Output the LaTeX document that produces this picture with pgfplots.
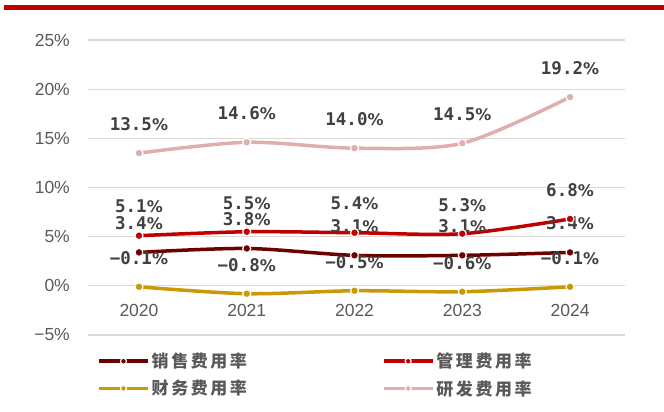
\documentclass[border=0pt]{standalone}
\usepackage{pgfplots}
\pgfplotsset{compat=1.18}
\usepackage{fontspec}
\setmainfont{Liberation Sans}
\newfontfamily\cjk[LetterSpace=15]{Noto Sans CJK SC}
\newfontfamily\lab{DejaVu Sans Mono}
\newfontfamily\pct{DejaVu Sans}
\definecolor{topred}{HTML}{C00000}
\definecolor{cxs}{HTML}{6E0000}
\definecolor{cgl}{HTML}{C00000}
\definecolor{ccw}{HTML}{C99A06}
\definecolor{cyf}{HTML}{DFAFAF}
\definecolor{gridgray}{HTML}{D9D9D9}
\definecolor{tickgray}{HTML}{595959}
\definecolor{labgray}{HTML}{404040}
\begin{document}
\begin{tikzpicture}[x=1pt,y=1pt]
\path[use as bounding box] (0,0) rectangle (664,412);
\fill[topred] (4,402) rectangle (664,406.5);
\begin{axis}[
  at={(88pt,77pt)}, anchor=south west,
  scale only axis, width=537pt, height=295pt,
  xmin=-0.473, xmax=4.51, ymin=-5, ymax=25,
  xtick={0,1,2,3,4}, xticklabels={2020,2021,2022,2023,2024},
  ytick={-5,0,5,10,15,20,25},
  yticklabels={−5\%,0\%,5\%,10\%,15\%,20\%,25\%},
  ymajorgrids, grid style={color=gridgray, line width=1.2pt},
  axis line style={draw=none}, major tick length=0pt,
  tick label style={font=\fontsize{17.5}{17.5}\selectfont, text=tickgray},
  yticklabel style={inner sep=0pt, xshift=-18pt},
  xticklabel style={anchor=center, yshift=25pt},
  clip=false,
  every axis plot/.append style={smooth, line width=3.5pt, mark=*, mark size=4pt},
  point meta=explicit symbolic,
  nodes near coords={\pgfplotspointmeta{\pct\fontsize{16}{16}\selectfont\%}},
  every node near coord/.append style={anchor=center, yshift=29pt,
     font=\lab\bfseries\fontsize{17.5}{17.5}\selectfont, text=labgray},
  legend columns=2,
  legend cell align=left,
  legend image code/.code={\draw[mark repeat=2, mark phase=2, #1, mark size=3pt]
      plot coordinates {(0pt,0pt) (24.5pt,0pt) (49pt,0pt)};},
  legend style={at={(0.0168,-0.054)}, anchor=north west, draw=none, fill=none,
     inner sep=0pt, font=\cjk\bfseries\fontsize{17}{17}\selectfont, text=tickgray,
     /tikz/every even column/.append style={column sep=133pt}, row sep=7pt},
]
\addplot[color=cxs, mark options={fill=cxs, draw=white, line width=1.2pt}]
  coordinates {(0,3.4)[3.4] (1,3.8)[3.8] (2,3.1)[3.1] (3,3.1)[3.1] (4,3.4)[3.4]};
\addlegendentry{销售费用率}
\addplot[color=cgl, mark options={fill=cgl, draw=white, line width=1.2pt}]
  coordinates {(0,5.1)[5.1] (1,5.5)[5.5] (2,5.4)[5.4] (3,5.3)[5.3] (4,6.8)[6.8]};
\addlegendentry{管理费用率}
\addplot[color=ccw, mark options={fill=ccw, draw=white, line width=1.2pt}]
  coordinates {(0,-0.1)[−0.1] (1,-0.8)[−0.8] (2,-0.5)[−0.5] (3,-0.6)[−0.6] (4,-0.1)[−0.1]};
\addlegendentry{财务费用率}
\addplot[color=cyf, mark options={fill=cyf, draw=white, line width=1.2pt}]
  coordinates {(0,13.5)[13.5] (1,14.6)[14.6] (2,14.0)[14.0] (3,14.5)[14.5] (4,19.2)[19.2]};
\addlegendentry{研发费用率}
\end{axis}
\end{tikzpicture}
\end{document}
